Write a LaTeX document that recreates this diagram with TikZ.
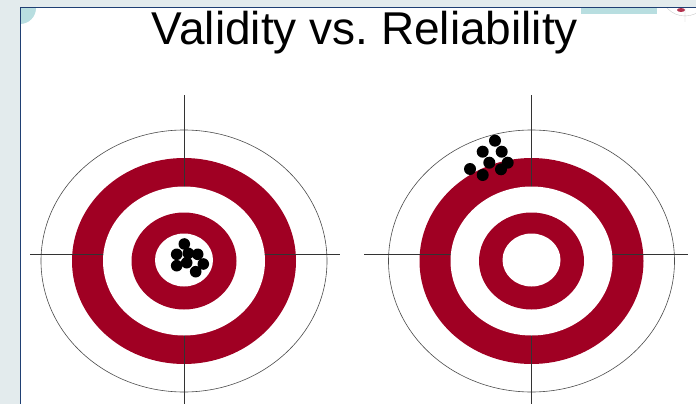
\documentclass[tikz,border=0pt]{standalone}
\usepackage{fontspec}
\setmainfont{Liberation Sans}
\usepackage{tikz}
\definecolor{ringred}{RGB}{160,0,35}
\definecolor{slideback}{RGB}{227,235,237}
\definecolor{slideframe}{RGB}{31,63,115}
\definecolor{slideteal}{RGB}{184,222,224}

\begin{document}
\begin{tikzpicture}[x=1pt,y=-1pt,
	ring/.style={fill=ringred},
	hole/.style={fill=white},
	rim/.style={draw=black!70,line width=0.6pt},
	hair/.style={draw=black!80,line width=0.8pt},
	shot/.style={fill=black}]
		\useasboundingbox (0,0) rectangle (696,404);
		\fill[slideback] (0,0) rectangle (696,404);
		\fill[white] (20,8) rectangle (696,404);
		\begin{scope}
			\clip (20,8) rectangle (696,404);
			\fill[slideteal] (20,8) circle (16);
			\fill[slideteal] (581,8) rectangle (657,14);
			\draw[black!20] (685,-8) circle (24) (685,8) -- (685,22);
			\fill[ringred!80] (681,10) ellipse (4 and 2);
		\end{scope}
		\draw[slideframe,line width=1pt] (20,404) -- (20,8) -- (696,8);
		\node[anchor=base,font=\fontsize{46}{52}\selectfont] (title) at (365,45) {Validity vs.\ Reliability};
		\foreach \cx/\xa/\xb in {184/30/340,531.5/364/688} {
			\draw[rim] (\cx,261) ellipse (143 and 131);
			\fill[ring] (\cx,261) ellipse (112 and 103);
			\draw[hair] (\xa,254.5) -- (\xb,254.5) (\cx,95) -- (\cx,404);
			\fill[hole] (\cx,261) ellipse (81 and 74.5);
			\fill[ring] (\cx,261) ellipse (52.5 and 48.5);
			\fill[hole] (\cx,260) ellipse (29 and 26.5);
		}
		\foreach \p in {(184.3,244),(176.7,254.3),(188.3,253.3),(197.7,254.3),(176.7,265.7),(186.7,262.7),(203.3,264),(195.7,271.7)}
			\fill[shot] \p circle (5.8);
		\foreach \p in {(495,140.7),(482.7,151.7),(501.7,151.7),(489.3,162.7),(507.7,162.7),(501,169.3),(470,169),(482.7,175)}
			\fill[shot] \p circle (6);
		\end{tikzpicture}
\end{document}
